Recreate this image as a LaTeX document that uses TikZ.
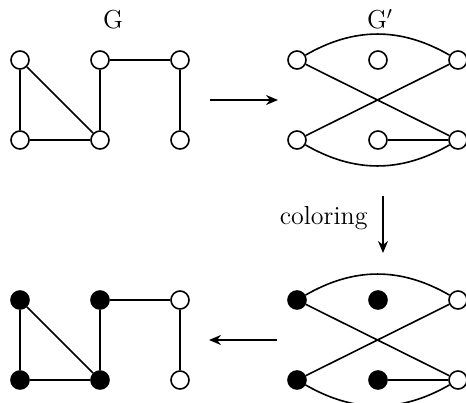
\documentclass[tikz,border=0pt]{standalone}
\usepackage{amsmath}
\usetikzlibrary{arrows.meta}

\begin{document}
\begin{tikzpicture}[x=0.5pt,y=-0.5pt,line width=0.8pt,
        vtx/.style={circle,draw,fill=white,inner sep=0pt,minimum size=9pt},
        vtxon/.style={vtx,fill=black},
        lbl/.style={font=\fontsize{13}{15}\selectfont}]
        \useasboundingbox (0,0) rectangle (466,402);
        % graph G
        \node[lbl] (G) at (113,20) {G};
        \node[vtx] (a1) at (20,60) {};
        \node[vtx] (a2) at (100,60) {};
        \node[vtx] (a3) at (180,60) {};
        \node[vtx] (a4) at (20,140) {};
        \node[vtx] (a5) at (100,140) {};
        \node[vtx] (a6) at (180,140) {};
        \draw (a1) -- (a4) -- (a5) -- (a1);
        \draw (a5) -- (a2) -- (a3) -- (a6);
        % graph G'
        \node[lbl] (Gp) at (380,19) {G$'$};
        \node[vtx] (b1) at (297,60) {};
        \node[vtx] (b2) at (378,60) {};
        \node[vtx] (b3) at (458,60) {};
        \node[vtx] (b4) at (297,140) {};
        \node[vtx] (b5) at (378,140) {};
        \node[vtx] (b6) at (458,140) {};
        \draw (b1) to[bend left=30] (b3);
        \draw (b4) to[bend right=30] (b6);
        \draw (b1) -- (b6);
        \draw (b4) -- (b3);
        \draw (b5) -- (b6);
        % colored G'
        \node[vtxon] (c1) at (297,300) {};
        \node[vtxon] (c2) at (378,300) {};
        \node[vtx] (c3) at (458,300) {};
        \node[vtxon] (c4) at (297,380) {};
        \node[vtxon] (c5) at (378,380) {};
        \node[vtx] (c6) at (458,380) {};
        \draw (c1) to[bend left=30] (c3);
        \draw (c4) to[bend right=30] (c6);
        \draw (c1) -- (c6);
        \draw (c4) -- (c3);
        \draw (c5) -- (c6);
        % colored G
        \node[vtxon] (d1) at (20,300) {};
        \node[vtxon] (d2) at (100,300) {};
        \node[vtx] (d3) at (180,300) {};
        \node[vtxon] (d4) at (20,380) {};
        \node[vtxon] (d5) at (100,380) {};
        \node[vtx] (d6) at (180,380) {};
        \draw (d1) -- (d4) -- (d5) -- (d1);
        \draw (d5) -- (d2) -- (d3) -- (d6);
        % the arrows
        \coordinate (p1) at (210,100);
        \coordinate (p2) at (278,100);
        \coordinate (q1) at (383,196);
        \coordinate (q2) at (383,253);
        \coordinate (r1) at (277,340);
        \coordinate (r2) at (209,340);
        \draw[-{Stealth[length=6pt,width=5pt]}] (p1) -- (p2);
        \draw[-{Stealth[length=6pt,width=5pt]}] (q1) -- (q2);
        \draw[-{Stealth[length=6pt,width=5pt]}] (r1) -- (r2);
        \node[lbl,anchor=east] (col) at (375,218) {coloring};
\end{tikzpicture}
\end{document}
